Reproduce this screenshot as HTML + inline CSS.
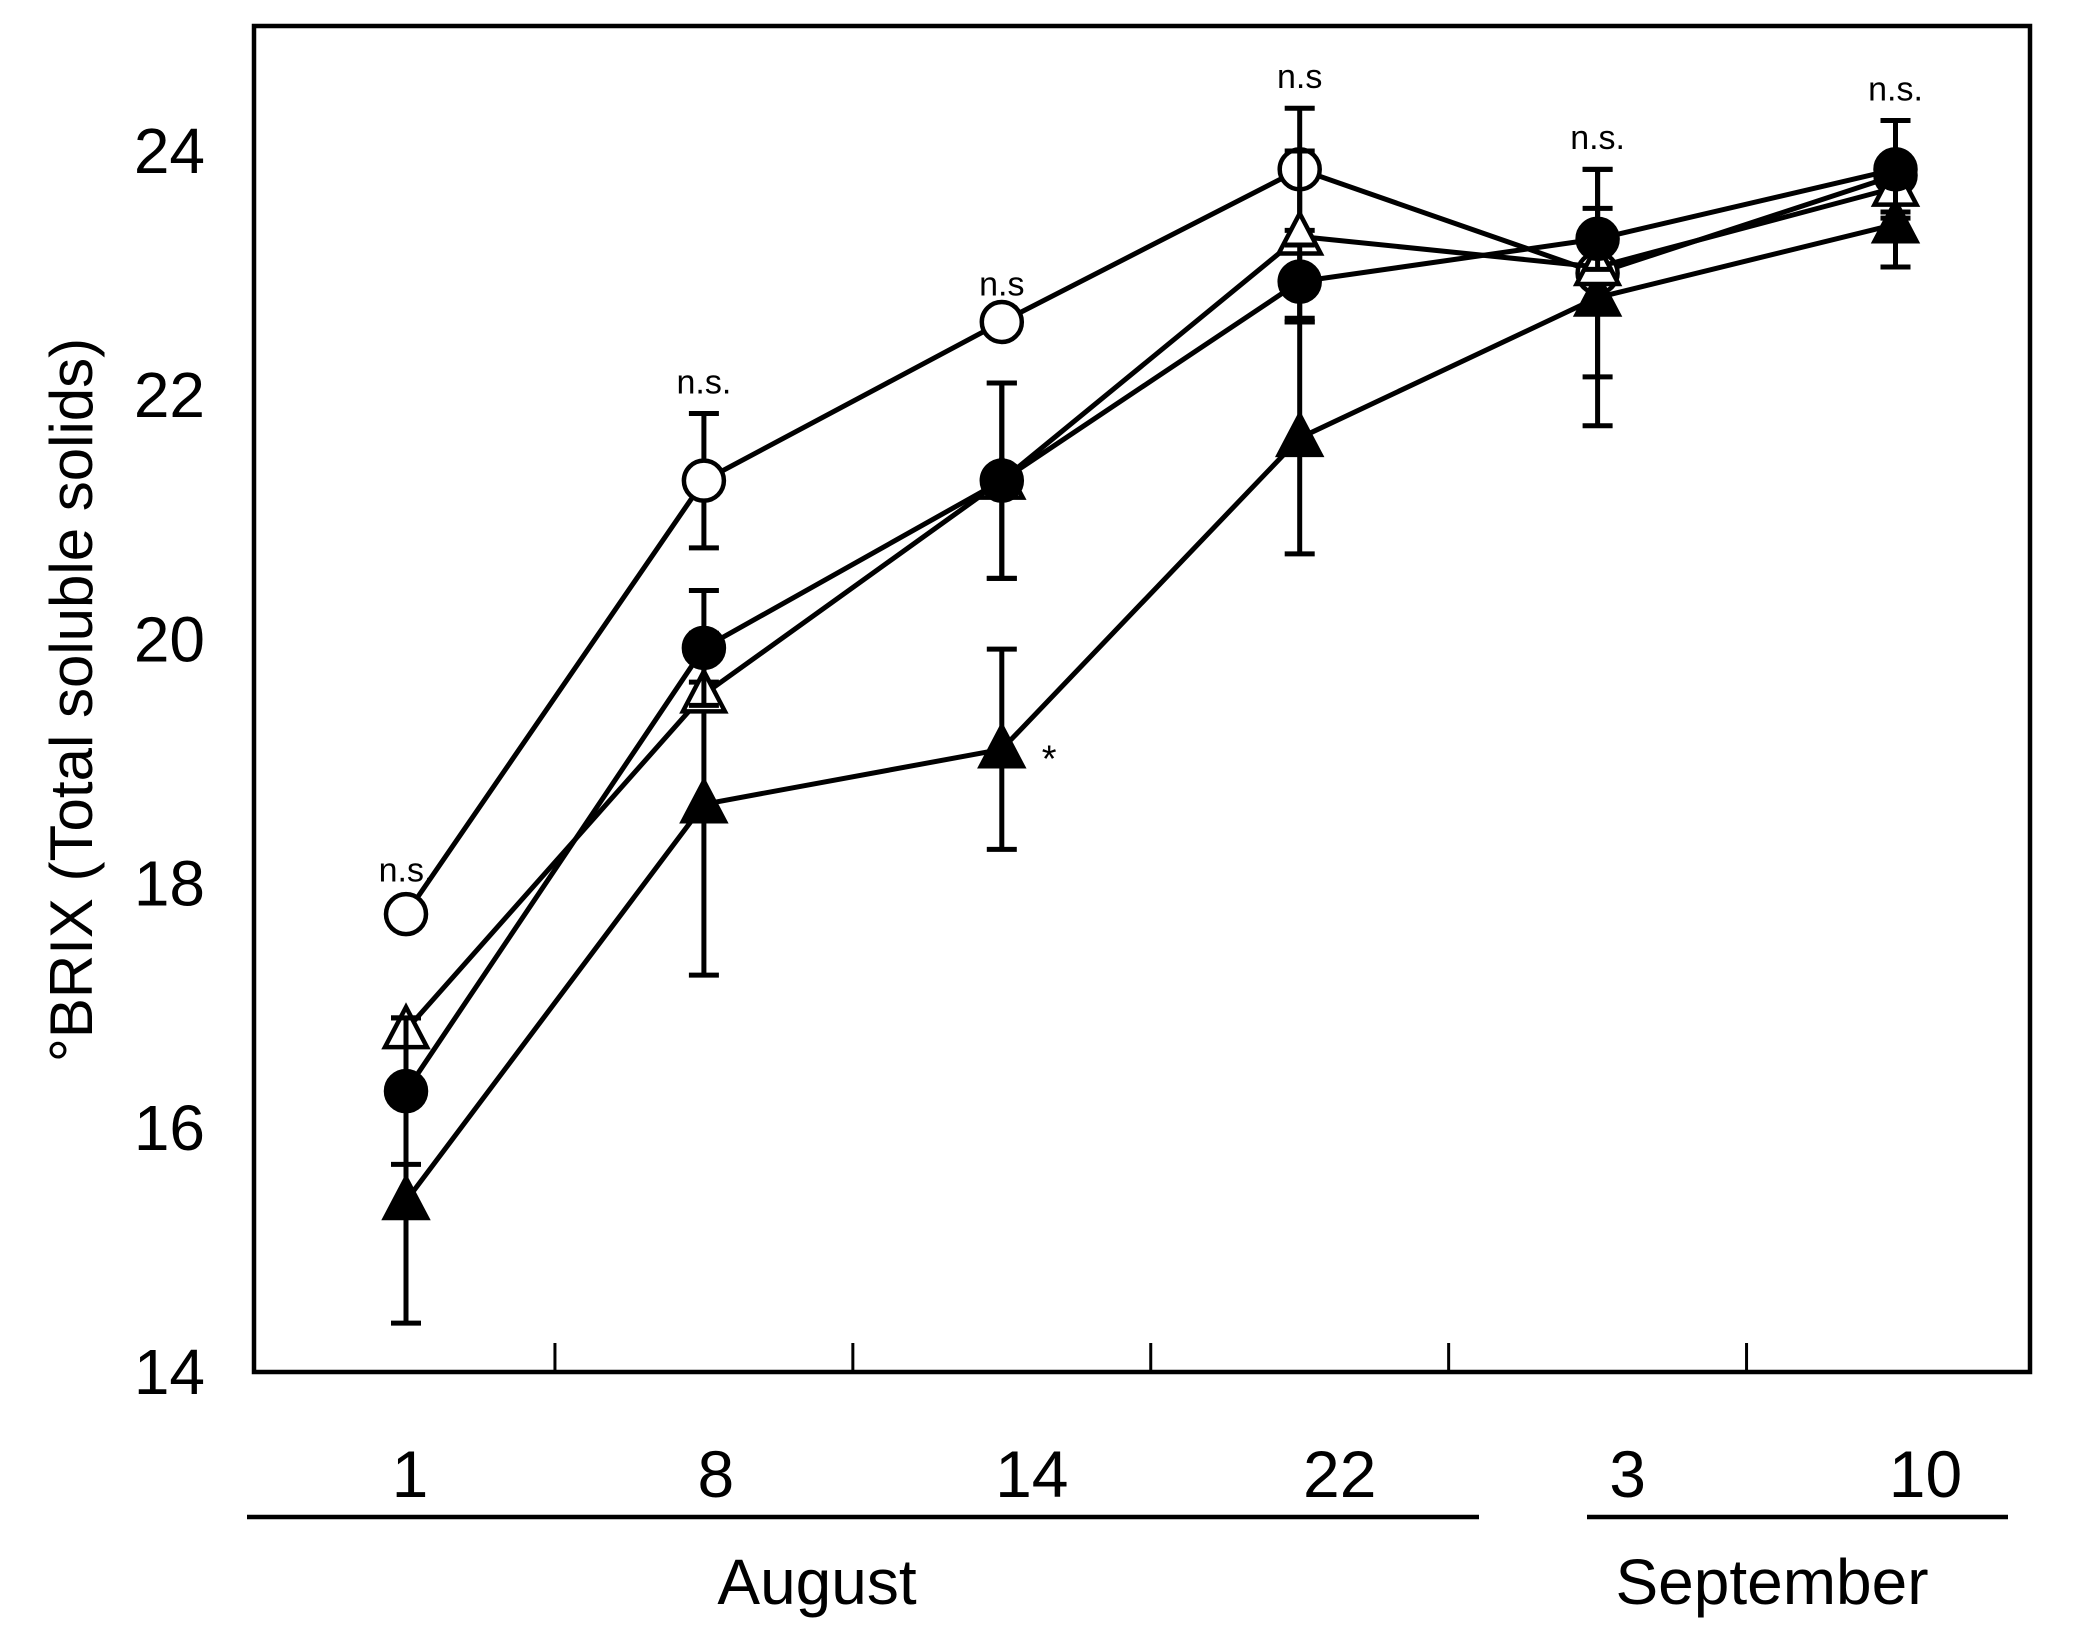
<!DOCTYPE html>
<html><head><meta charset="utf-8"><style>
html,body{margin:0;padding:0;background:#fff;}
svg text{font-family:"Liberation Sans",sans-serif;}
</style></head><body>
<svg id="chart" width="2074" height="1645" viewBox="0 0 2074 1645" xmlns="http://www.w3.org/2000/svg">
<rect x="254" y="26" width="1776" height="1346" fill="none" stroke="#000" stroke-width="4.5"/>
<g id="axes"></g>
<g id="series"></g>
<text transform="translate(92,700) rotate(-90)" text-anchor="middle" font-size="60">°BRIX (Total soluble solids)</text>
<line x1="247" y1="1517" x2="1479" y2="1517" stroke="#000" stroke-width="4.5"/>
<line x1="1587" y1="1517" x2="2008" y2="1517" stroke="#000" stroke-width="4.5"/>
<text x="817" y="1604" text-anchor="middle" font-size="64">August</text>
<text x="1772" y="1604" text-anchor="middle" font-size="64">September</text>
</svg>
<script>
const days = ["1","8","14","22","3","10"];
const yTicks = [14,16,18,20,22,24];
const openCircle = [17.75,21.3,22.6,23.85,23.0,23.8];
const openCircleErr = [0.1,0.55,0.1,0.5,0.85,0.1];
const filledCircle = [16.3,19.93,21.3,22.93,23.28,23.85];
const filledCircleErr = [0.6,0.47,0.8,0.3,0.25,0.4];
const openTriangle = [16.8,19.55,21.3,23.3,23.05,23.7];
const openTriangleErr = [0.1,0.1,0.8,0.7,0.3,0.2];
const filledTriangle = [15.4,18.65,19.1,21.65,22.8,23.4];
const filledTriangleErr = [1.0,1.4,0.82,0.95,1.05,0.35];
const sigLabels = ["n.s.","n.s.","n.s","n.s","n.s.","n.s."];
const sigValues = [17.95,21.95,22.75,24.45,23.95,24.35];

const NS="http://www.w3.org/2000/svg";
const X=i=>406+i*297.9;
const Y=v=>1372-(v-14)*122.1;
function mk(tag,attrs,parent){const e=document.createElementNS(NS,tag);for(const k in attrs)e.setAttribute(k,attrs[k]);parent.appendChild(e);return e;}
const axes=document.getElementById('axes');
yTicks.forEach(v=>{
  const t=mk('text',{x:205,y:Y(v)+22,'text-anchor':'end','font-size':64},axes);
  t.textContent=v;
  
  
});
for(let i=0;i<5;i++){
  const l=mk('line',{x1:X(i+0.5),x2:X(i+0.5),y1:1372,y2:1343,stroke:'#000','stroke-width':3},axes);
  
  
}
const xOff=[4,12,30,40,30,30];
days.forEach((d,i)=>{
  const t=mk('text',{x:X(i)+xOff[i],y:1497,'text-anchor':'middle','font-size':66},axes);
  t.textContent=d;
  
  
});
sigLabels.forEach((s,i)=>{
  const t=mk('text',{x:X(i),y:Y(sigValues[i])-8,'text-anchor':'middle','font-size':34},axes);
  t.textContent=s;
  
  
});
const star=mk('text',{x:X(2)+40,y:Y(filledTriangle[2])+22,'font-size':38},axes);
star.textContent='*';



const sg=document.getElementById('series');
const all=[
 {name:'open-circle',v:openCircle,e:openCircleErr,m:'circ',f:'#fff'},
 {name:'filled-triangle',v:filledTriangle,e:filledTriangleErr,m:'tri',f:'#000'},
 {name:'open-triangle',v:openTriangle,e:openTriangleErr,m:'tri',f:'#fff'},
 {name:'filled-circle',v:filledCircle,e:filledCircleErr,m:'circ',f:'#000'}];
all.forEach(s=>{
  const g=mk('g',{},sg);
  
  
  s.v.forEach((v,i)=>{
    const lo=Y(v-s.e[i]),hi=Y(v+s.e[i]);
    const eb=mk('path',{d:`M${X(i)} ${lo}V${hi}M${X(i)-15} ${lo}H${X(i)+15}M${X(i)-15} ${hi}H${X(i)+15}`,stroke:'#000','stroke-width':5,fill:'none'},g);
    
    
  });
  const pl=mk('polyline',{points:s.v.map((v,i)=>X(i)+','+Y(v)).join(' '),fill:'none',stroke:'#000','stroke-width':5},g);
  
  
  s.v.forEach((v,i)=>{
    let p;
    if(s.m==='circ') p=mk('circle',{cx:X(i),cy:Y(v),r:20,fill:s.f,stroke:'#000','stroke-width':4.5},g);
    else p=mk('polygon',{points:`${X(i)},${Y(v)-23} ${X(i)-21},${Y(v)+17} ${X(i)+21},${Y(v)+17}`,fill:s.f,stroke:'#000','stroke-width':4.5},g);
    
    
  });
});
</script>
</body></html>
